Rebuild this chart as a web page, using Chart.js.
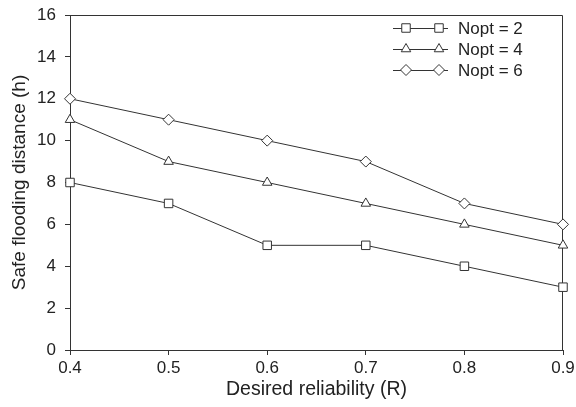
<!DOCTYPE html>
<html>
<head>
<meta charset="utf-8">
<script src="https://cdn.jsdelivr.net/npm/chart.js@4.4.1/dist/chart.umd.min.js"></script>
<style>
  html, body { margin: 0; padding: 0; background: #fff; }
  #wrap { width: 576px; height: 407px; }
</style>
</head>
<body>
<div id="wrap"><canvas id="c" width="576" height="407"></canvas></div>
<script>
const reliability = [0.4, 0.5, 0.6, 0.7, 0.8, 0.9];
const noptLabels = ['Nopt = 2', 'Nopt = 4', 'Nopt = 6'];
const nopt2 = [8, 7, 5, 5, 4, 3];
const nopt4 = [11, 9, 8, 7, 6, 5];
const nopt6 = [12, 11, 10, 9, 7, 6];
const xTitle = 'Desired reliability (R)';
const yTitle = 'Safe flooding distance (h)';

const INK = '#333333';
const TXT = '#222222';
const FONT = "'Liberation Sans', Arial, Helvetica, sans-serif";

function pts(vals) { return reliability.map((r, i) => ({ x: r, y: vals[i] })); }

function ds(label, vals, style, radius) {
  return {
    label: label,
    data: pts(vals),
    borderColor: INK,
    borderWidth: 1,
    backgroundColor: '#ffffff',
    pointStyle: style,
    pointRadius: radius,
    pointHoverRadius: radius,
    pointBorderColor: INK,
    pointBackgroundColor: '#ffffff',
    pointBorderWidth: 1,
    tension: 0,
    fill: false,
    clip: false
  };
}

const frameAndLegend = {
  id: 'frameAndLegend',
  beforeDatasetsDraw(chart) {
    const a = chart.chartArea, ctx = chart.ctx;
    ctx.save();
    ctx.strokeStyle = INK;
    ctx.lineWidth = 1;
    ctx.beginPath();
    ctx.moveTo(Math.round(a.left) + 0.5, Math.round(a.top) + 0.5);
    ctx.lineTo(Math.round(a.right) - 0.5, Math.round(a.top) + 0.5);
    ctx.lineTo(Math.round(a.right) - 0.5, Math.round(a.bottom));
    ctx.stroke();
    ctx.restore();
  },
  afterDatasetsDraw(chart) {
    const ctx = chart.ctx;
    const a = chart.chartArea;
    const x0 = a.right - 170, x1 = a.right - 115;
    const m0 = a.right - 157, m1 = a.right - 124;
    const tx = a.right - 105;
    const ys = [a.top + 13, a.top + 34, a.top + 55];
    ctx.save();
    chart.data.datasets.forEach((d, i) => {
      const y = ys[i];
      ctx.strokeStyle = INK;
      ctx.lineWidth = 1;
      ctx.beginPath();
      ctx.moveTo(x0, y + 0.5);
      ctx.lineTo(x1, y + 0.5);
      ctx.stroke();
      [m0, m1].forEach(mx => {
        ctx.fillStyle = '#ffffff';
        ctx.strokeStyle = INK;
        Chart.helpers.drawPoint(ctx, { pointStyle: d.pointStyle, radius: d.pointRadius, rotation: 0, borderWidth: 1 }, mx, y);
      });
      ctx.fillStyle = TXT;
      ctx.font = '17px ' + FONT;
      ctx.textBaseline = 'middle';
      ctx.textAlign = 'left';
      ctx.fillText(noptLabels[i], tx, y + 1);
    });
    ctx.restore();
  }
};

new Chart(document.getElementById('c'), {
  type: 'line',
  data: {
    datasets: [
      ds(noptLabels[0], nopt2, 'rect', 6),
      ds(noptLabels[1], nopt4, 'triangle', 5.5),
      ds(noptLabels[2], nopt6, 'rectRot', 5.5)
    ]
  },
  options: {
    responsive: false,
    animation: false,
    layout: { padding: { top: 15, right: 13, left: 0, bottom: 0 } },
    plugins: { legend: { display: false }, tooltip: { enabled: false } },
    scales: {
      x: {
        type: 'linear',
        min: 0.4, max: 0.9,
        afterFit(s) { s.height = 57; s.paddingLeft = 0; s.paddingRight = 0; },
        ticks: {
          stepSize: 0.1,
          callback: v => Number(v).toFixed(1),
          font: { family: FONT, size: 17 },
          color: TXT,
          padding: 3,
          maxRotation: 0
        },
        grid: { display: true, drawOnChartArea: false, tickLength: 5, color: INK, tickColor: INK },
        border: { display: true, color: INK, width: 1 },
        title: { display: true, text: xTitle, font: { family: FONT, size: 19.5 }, color: TXT, padding: { top: 0, bottom: 6 } }
      },
      y: {
        min: 0, max: 16,
        afterFit(s) { s.width = 70; s.paddingTop = 0; s.paddingBottom = 0; },
        ticks: {
          stepSize: 2,
          font: { family: FONT, size: 17 },
          color: TXT,
          padding: 9
        },
        grid: { display: true, drawOnChartArea: false, tickLength: 5, color: INK, tickColor: INK },
        border: { display: true, color: INK, width: 1 },
        title: { display: true, text: yTitle, font: { family: FONT, size: 19 }, color: TXT, padding: { top: 8, bottom: 0 } }
      }
    }
  },
  plugins: [frameAndLegend]
});
</script>
</body>
</html>
